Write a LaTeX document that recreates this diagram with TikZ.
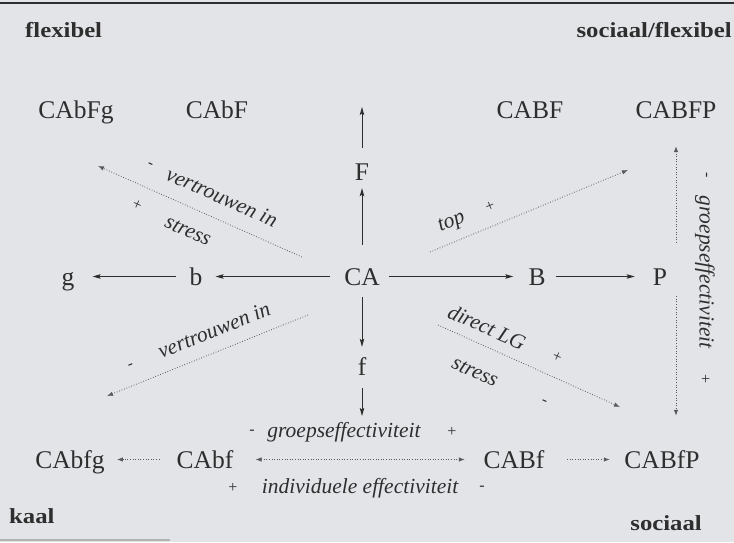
\documentclass[tikz,border=0pt]{standalone}
\usepackage{fontspec}
\setmainfont{Liberation Serif}
\newfontfamily\boldlab{Liberation Serif Bold}[FakeStretch=1.15]
\usetikzlibrary{arrows.meta,calc}
\definecolor{bgc}{HTML}{E3E4E8}
\definecolor{ink}{HTML}{2E2E2E}
\definecolor{dotc}{HTML}{5A5A5A}
\tikzset{
  nd/.style={inner sep=0pt, text height=17pt, text depth=0pt, text=ink,
    font=\fontsize{25.5}{28}\selectfont},
  corner/.style={inner sep=0pt, text=ink, font=\boldlab\fontsize{21.5}{24}\selectfont},
  lab/.style={inner sep=0pt, text=ink, font=\itshape\fontsize{21.5}{24}\selectfont},
  sgn/.style={inner sep=0pt, text=ink, font=\fontsize{16}{18}\selectfont},
  sarr/.style={draw=ink, line width=0.9pt, -{Stealth[length=8pt,width=4.5pt,inset=1.5pt]}},
  darr/.style={draw=dotc, line width=0.8pt, dash pattern=on 0.8pt off 1.8pt,
    -{Latex[length=6pt,width=4.5pt]}},
  ddarr/.style={darr, {Latex[length=6pt,width=4.5pt]}-{Latex[length=6pt,width=4.5pt]}}
}
\begin{document}
\begin{tikzpicture}[x=1pt,y=-1pt]
\fill[bgc] (0,0) rectangle (734,542);
\useasboundingbox (0,0) rectangle (734,542);
\draw[ink, line width=1.8pt] (0,3) -- (734,3);
\draw[gray!60, line width=1.2pt] (0,540) -- (170,540);

% corner labels
\node[corner, anchor=base west] (flex) at (25,37) {flexibel};
\node[corner, anchor=base east] (socflex) at (732,37) {sociaal/flexibel};
\node[corner, anchor=base west] (kaal) at (9,523) {kaal};
\node[corner, anchor=base east] (soc) at (702,530) {sociaal};

% main nodes
\node[nd] (CAbFg) at (76,109.5) {CAbFg};
\node[nd] (CAbF) at (217,109.5) {CAbF};
\node[nd] (CABF) at (530,109.5) {CABF};
\node[nd] (CABFP) at (676,109.5) {CABFP};
\node[nd] (F) at (362,171.5) {F};
\node[nd] (CA) at (362,276.5) {CA};
\node[nd] (g) at (68,276.5) {g};
\node[nd] (b) at (196,276.5) {b};
\node[nd] (B) at (537,276.5) {B};
\node[nd] (P) at (660,276.5) {P};
\node[nd] (f) at (362,366.5) {f};
\node[nd] (CAbfg) at (70,459.5) {CAbfg};
\node[nd] (CAbf) at (205,459.5) {CAbf};
\node[nd] (CABf) at (514,459.5) {CABf};
\node[nd] (CABfP) at (662,459.5) {CABfP};

% free ends
\coordinate (Ftop) at (362,107);
\coordinate (fbot) at (362,416);

% solid arrows
\draw[sarr] ([yshift=23pt]CA.north) -- ([yshift=-8pt]F.south);
\draw[sarr] ([yshift=15pt]F.north) -- (Ftop);
\draw[sarr] ([yshift=-12pt]CA.south) -- ([yshift=11pt]f.north);
\draw[sarr] ([yshift=-13pt]f.south) -- (fbot);
\draw[sarr] ([xshift=-14pt]CA.west) -- ([xshift=13pt]b.east);
\draw[sarr] ([xshift=-13pt]b.west) -- ([xshift=18pt]g.east);
\draw[sarr] ([xshift=9pt]CA.east) -- ([xshift=-15pt]B.west);
\draw[sarr] ([xshift=10pt]B.east) -- ([xshift=-18pt]P.west);

% dotted arrows bottom row
\draw[ddarr] ([xshift=22pt]CAbf.east) -- ([xshift=-18.5pt]CABf.west);
\draw[darr] ([xshift=-17pt]CAbf.west) -- ([xshift=12pt]CAbfg.east);
\draw[darr] ([xshift=22.5pt]CABf.east) -- ([xshift=-14.5pt]CABfP.west);

% dotted vertical right
\draw[darr] ($(P.north)+(16,-25)$) -- ($(CABFP.south)+(0,28)$);
\draw[darr] ($(P.south)+(16,11)$) -- ($(CABfP.north)+(14,-35)$);

% diagonals
\coordinate (ulS) at (302,257); \coordinate (ulE) at (98,166);
\coordinate (llS) at (308,315); \coordinate (llE) at (107,396);
\coordinate (urS) at (430,252); \coordinate (urE) at (628,170);
\coordinate (lrS) at (438,325); \coordinate (lrE) at (620,407);
\draw[darr] (ulS) -- (ulE);
\draw[darr] (llS) -- (llE);
\draw[darr] (urS) -- (urE);
\draw[darr] (lrS) -- (lrE);

% diagonal labels
\node[lab, rotate=-24] (ulv) at (222,197) {vertrouwen in};
\node[lab, rotate=-24] (uls) at (188,231) {stress};
\node[sgn, rotate=-24] (ulm) at (150,166) {-};
\node[sgn, rotate=-24] (ulp) at (137,205) {+};

\node[lab, rotate=22] (llv) at (214,330) {vertrouwen in};
\node[sgn, rotate=22] (llm) at (131,366) {-};

\node[lab, rotate=22] (urt) at (452,223) {top};
\node[sgn, rotate=22] (urp) at (490,207) {+};

\node[lab, rotate=-24] (lrd) at (487,327) {direct LG};
\node[lab, rotate=-24] (lrs) at (475,372) {stress};
\node[sgn, rotate=-24] (lrp) at (557,357) {+};
\node[sgn, rotate=-24] (lrm) at (544,403) {-};

% bottom labels
\node[lab, anchor=base] (ge) at (344,437) {groepseffectiviteit};
\node[sgn] (gem) at (252,432) {-};
\node[sgn] (gep) at (452,432) {+};
\node[lab, anchor=base] (ie) at (360,493) {individuele effectiviteit};
\node[sgn] (iep) at (233,488) {+};
\node[sgn] (iem) at (482,488) {-};

% right vertical label
\node[lab, rotate=-90] (rge) at (705,272) {groepseffectiviteit};
\node[sgn, rotate=-90] (rgm) at (705,175) {-};
\node[sgn, rotate=-90] (rgp) at (705,379) {+};
\end{tikzpicture}
\end{document}
